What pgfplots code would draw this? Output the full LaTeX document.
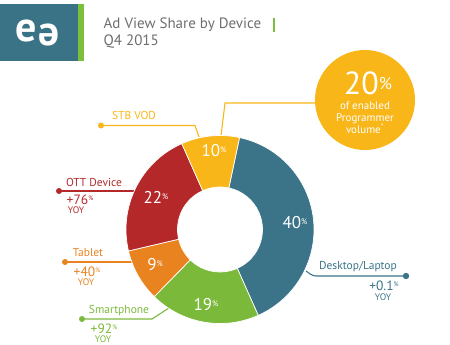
\documentclass[border=0pt]{standalone}
\usepackage{fontspec}
\setmainfont{PT Sans}
\usepackage{pgfplots}
\pgfplotsset{compat=1.18}
\usepackage{pgfplotstable}

\definecolor{cBlue}{HTML}{3B7488}
\definecolor{cGreen}{HTML}{7BB93B}
\definecolor{cOrange}{HTML}{E9831F}
\definecolor{cRed}{HTML}{B5282A}
\definecolor{cYellow}{HTML}{F9B619}
\definecolor{cGray}{HTML}{6E6E6E}
\definecolor{cLogo}{HTML}{3A7385}
\definecolor{cLogoGreen}{HTML}{7CBF3C}

\pgfplotstableread{
name value
Desktop 40
Smartphone 19
Tablet 9
OTT 22
STB 10
}\sharetable

\pgfplotstablegetelem{0}{value}\of\sharetable \let\vA\pgfplotsretval
\pgfplotstablegetelem{1}{value}\of\sharetable \let\vB\pgfplotsretval
\pgfplotstablegetelem{2}{value}\of\sharetable \let\vC\pgfplotsretval
\pgfplotstablegetelem{3}{value}\of\sharetable \let\vD\pgfplotsretval
\pgfplotstablegetelem{4}{value}\of\sharetable \let\vE\pgfplotsretval

\pgfmathsetmacro\aZero{78}
\pgfmathsetmacro\aOne{\aZero-3.6*\vA}
\pgfmathsetmacro\aTwo{\aOne-3.6*\vB}
\pgfmathsetmacro\aThree{\aTwo-3.6*\vC}
\pgfmathsetmacro\aFour{\aThree-3.6*\vD}
\pgfmathsetmacro\aFive{\aFour-3.6*\vE}

\newcommand\donutwedge[3]{%
  \fill[#1, draw=white, line width=0.7pt]
    ([shift={(#2:94pt)}]C) arc[start angle=#2, end angle=#3, radius=94pt]
    -- ([shift={(#3:42.5pt)}]C) arc[start angle=#3, end angle=#2, radius=42.5pt] -- cycle;}

\newcommand\pct[3]{{\fontsize{#1}{#1}\selectfont #3}\raisebox{0.4em}{\fontsize{#2}{#2}\selectfont\%}}

\begin{document}
\begin{tikzpicture}[every node/.style={inner sep=0.5pt}]
\begin{axis}[
  width=450pt, height=345pt, scale only axis,
  xmin=0, xmax=450, ymin=0, ymax=345, y dir=reverse,
  axis lines=none, clip=false]
\path (axis cs:0,0) rectangle (axis cs:450,345);

% logo
\fill[cLogo] (axis cs:0,4) rectangle (axis cs:78,61);
\fill[cLogoGreen] (axis cs:78,4) rectangle (axis cs:84,61);
\node[white] at (axis cs:26,31) {\fontsize{42}{42}\selectfont\bfseries e};
\node[white, rotate=180] at (axis cs:49,35.5) {\fontsize{42}{42}\selectfont\bfseries e};

% title
\node[anchor=west, text=cGray, font=\fontsize{15}{15}\selectfont] at (axis cs:103,25) {Ad View Share by Device};
\draw[cLogoGreen, line width=1.2pt] (axis cs:274,18) -- (axis cs:274,32);
\node[anchor=west, text=cGray, font=\fontsize{15}{15}\selectfont] at (axis cs:103,42) {Q4 2015};

% leaders
\draw[cYellow, line width=1.1pt] (axis cs:316,103) -- (axis cs:225,103) -- (axis cs:221,136);
\draw[cYellow, line width=1.1pt] (axis cs:101,125.5) -- (axis cs:195,125.5) -- (axis cs:199,137);
\fill[cYellow] (axis cs:101,125.5) circle[radius=3pt];
\draw[cRed, line width=1.1pt] (axis cs:59,191) -- (axis cs:136,191);
\fill[cRed] (axis cs:59,191) circle[radius=3pt];
\draw[cOrange, line width=1.1pt] (axis cs:65,262) -- (axis cs:133,262);
\fill[cOrange] (axis cs:65,262) circle[radius=3pt];
\draw[cGreen, line width=1.1pt] (axis cs:82,319) -- (axis cs:152,319) -- (axis cs:169,308);
\fill[cGreen] (axis cs:82,319) circle[radius=3pt];
\draw[cBlue, line width=1.1pt, rounded corners=3pt] (axis cs:306,271) -- (axis cs:313,276) -- (axis cs:406,276);
\fill[cBlue] (axis cs:406,276) circle[radius=3.2pt];

% donut
\coordinate (C) at (axis cs:220,229.5);
\donutwedge{cBlue}{\aZero}{\aOne}
\donutwedge{cGreen}{\aOne}{\aTwo}
\donutwedge{cOrange}{\aTwo}{\aThree}
\donutwedge{cRed}{\aThree}{\aFour}
\donutwedge{cYellow}{\aFour}{\aFive}

% values
\node[white] at (axis cs:295,223) {\pct{17}{8}{40}};
\node[white] at (axis cs:206,305) {\pct{17}{8}{19}};
\node[white] at (axis cs:155,265) {\pct{17}{8}{9}};
\node[white] at (axis cs:156,197) {\pct{17}{8}{22}};
\node[white] at (axis cs:214,151) {\pct{17}{8}{10}};

% callout circle
\fill[cYellow] (axis cs:365,100) circle[radius=50pt];
\node[white] at (axis cs:368,83) {{\fontsize{32}{32}\selectfont 20}\raisebox{0.5em}{\fontsize{17}{17}\selectfont\%}};
\node[white, align=center, font=\fontsize{11}{11.2}\selectfont] at (axis cs:365,118) {of enabled\\Programmer\\volume\textsuperscript{*}};

% labels
\node[text=cYellow, font=\fontsize{11.5}{12}\selectfont] at (axis cs:134,115) {STB VOD};
\node[text=cRed, font=\fontsize{11.5}{12}\selectfont] at (axis cs:94,182) {OTT Device};
\node[text=cRed] at (axis cs:80,199.5) {\pct{13.5}{6.5}{+76}};
\node[text=cRed, font=\fontsize{9.5}{9.5}\selectfont] at (axis cs:76,210.5) {YOY};
\node[text=cOrange, font=\fontsize{11.5}{12}\selectfont] at (axis cs:88,253) {Tablet};
\node[text=cOrange] at (axis cs:87,271.5) {\pct{13.5}{6.5}{+40}};
\node[text=cOrange, font=\fontsize{9.5}{9.5}\selectfont] at (axis cs:86,282.5) {YOY};
\node[text=cGreen, font=\fontsize{11.5}{12}\selectfont] at (axis cs:119,311) {Smartphone};
\node[text=cGreen] at (axis cs:104,328.5) {\pct{13.5}{6.5}{+92}};
\node[text=cGreen, font=\fontsize{9.5}{9.5}\selectfont] at (axis cs:103,339.5) {YOY};
\node[text=cBlue, font=\fontsize{11.5}{12}\selectfont] at (axis cs:358,267) {Desktop/Laptop};
\node[text=cBlue] at (axis cs:384,286) {\pct{13.5}{6.5}{+0.1}};
\node[text=cBlue, font=\fontsize{9.5}{9.5}\selectfont] at (axis cs:383,297) {YOY};
\end{axis}
\end{tikzpicture}
\end{document}
